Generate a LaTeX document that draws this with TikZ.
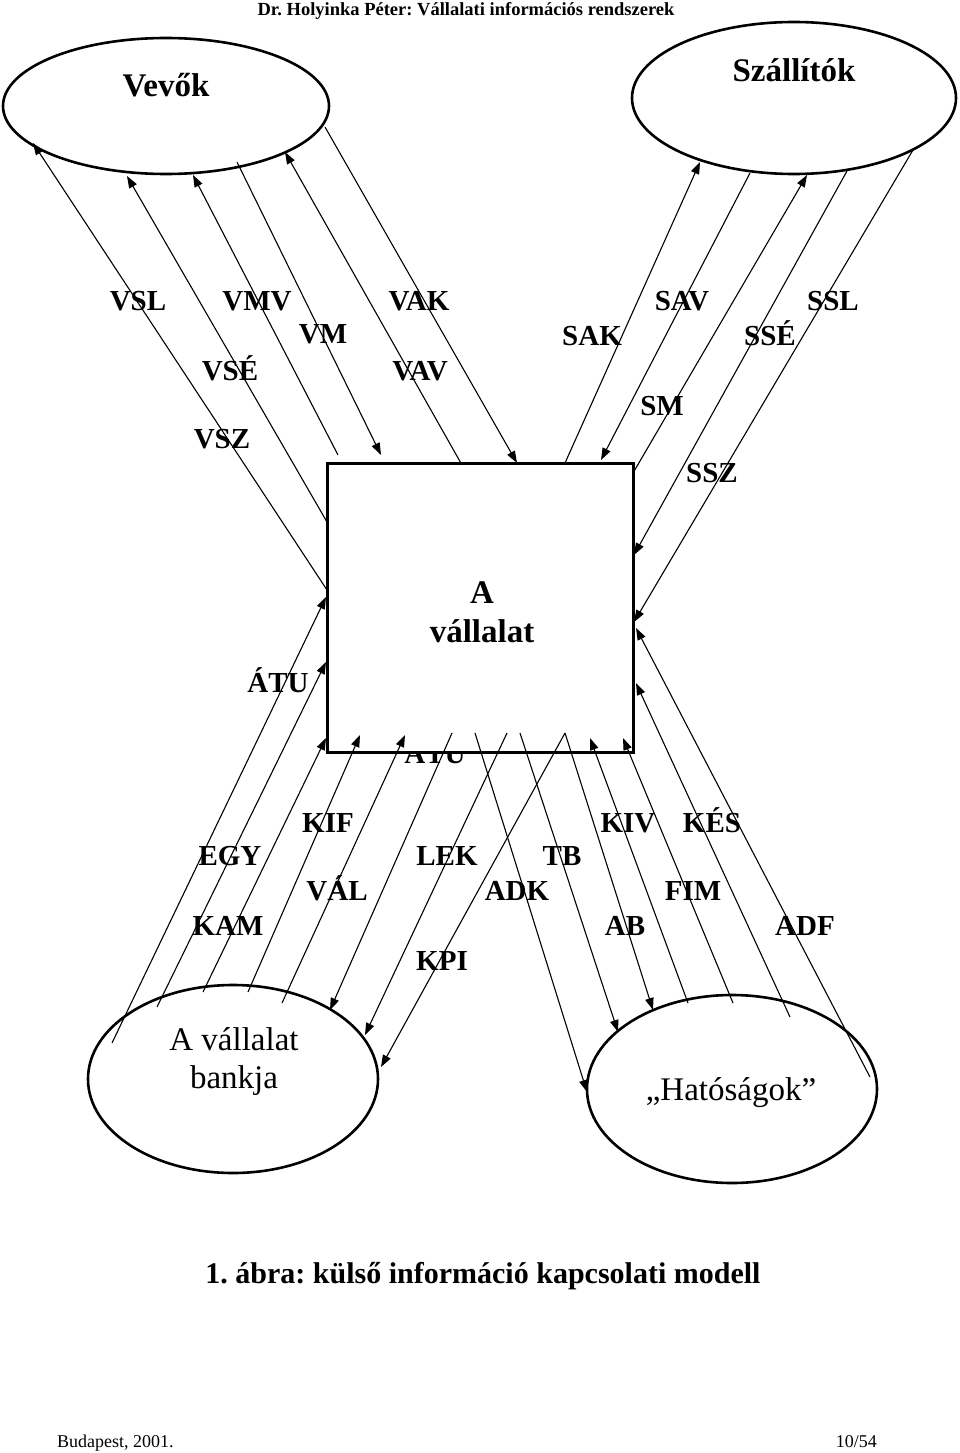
\documentclass[tikz,border=0pt]{standalone}
\usepackage{fontspec}
\setmainfont{Liberation Serif}
\usetikzlibrary{arrows.meta,shapes.geometric}
\frenchspacing
\begin{document}
\begin{tikzpicture}[x=1pt,y=-1pt,
  ell/.style={draw, line width=2.6pt, ellipse, inner sep=0pt},
  flow/.style={line width=1.1pt, -{Triangle[length=12pt,width=8.5pt]}},
  lab/.style={font=\fontsize{29}{34}\selectfont\bfseries, anchor=base, inner sep=0pt},
  bigb/.style={font=\fontsize{33}{38}\selectfont\bfseries, anchor=base, inner sep=0pt},
  bigr/.style={font=\fontsize{33}{38}\selectfont, anchor=base, inner sep=0pt},
]
\useasboundingbox (0,0) rectangle (960,1453);

% header / caption / footer
\node[font=\fontsize{18.5}{22}\selectfont\bfseries, anchor=base, inner sep=0pt] (header) at (466,16) {Dr. Holyinka Péter: Vállalati információs rendszerek};
\node[font=\fontsize{30}{36}\selectfont\bfseries, anchor=base, inner sep=0pt] (caption) at (483,1283) {1. ábra: külső információ kapcsolati modell};
\node[font=\fontsize{18}{22}\selectfont, anchor=base west, inner sep=0pt] (place) at (57,1447) {Budapest, 2001.};
\node[font=\fontsize{18}{22}\selectfont, anchor=base east, inner sep=0pt] (page) at (877,1447) {10/54};

% entities
\node[ell, minimum width=326pt, minimum height=136pt] (vevok) at (166,106) {};
\node[ell, minimum width=324pt, minimum height=152pt] (szall) at (794,98) {};
\node[ell, minimum width=290pt, minimum height=188pt] (bank) at (233,1079) {};
\node[ell, minimum width=290pt, minimum height=188pt] (hat) at (732,1089) {};

\node[bigb] (tvevok) at (166,97) {Vevők};
\node[bigb] (tszall) at (794,82) {Szállítók};
\node[bigr] (tbank1) at (234,1050) {A vállalat};
\node[bigr] (tbank2) at (234,1088) {bankja};
\node[bigr] (that) at (731,1100) {„Hatóságok”};

% label partly hidden by the box
\node[lab] (atu2) at (435,763) {ÁTU};

% the company box
\node[draw, line width=3pt, fill=white, minimum width=306pt, minimum height=289pt, inner sep=0pt] (firm) at (480,607.5) {};
\node[bigb] (tfirm1) at (482,603) {A};
\node[bigb] (tfirm2) at (482,642) {vállalat};

% end points
\coordinate (v1a) at (327,590); \coordinate (v1b) at (33,143);
\coordinate (v2a) at (327,522); \coordinate (v2b) at (127,176);
\coordinate (v3a) at (338,455); \coordinate (v3b) at (193,175);
\coordinate (v4a) at (237,162); \coordinate (v4b) at (381,455);
\coordinate (v5a) at (462,465); \coordinate (v5b) at (285,152);
\coordinate (v6a) at (325,127); \coordinate (v6b) at (517,463);

\coordinate (s1a) at (565,463); \coordinate (s1b) at (700,162);
\coordinate (s2a) at (750,173); \coordinate (s2b) at (601,460);
\coordinate (s3a) at (633,473); \coordinate (s3b) at (807,175);
\coordinate (s4a) at (847,171); \coordinate (s4b) at (634,555);
\coordinate (s5a) at (913,150); \coordinate (s5b) at (634,622);

\coordinate (b1a) at (112,1043); \coordinate (b1b) at (326,597);
\coordinate (b2a) at (157,1007); \coordinate (b2b) at (326,662);
\coordinate (b3a) at (203,992);  \coordinate (b3b) at (326,738);
\coordinate (b4a) at (248,992);  \coordinate (b4b) at (360,735);
\coordinate (b5a) at (282,1003); \coordinate (b5b) at (405,735);
\coordinate (b6a) at (452,733);  \coordinate (b6b) at (330,1010);
\coordinate (b7a) at (507,733);  \coordinate (b7b) at (365,1035);
\coordinate (b8a) at (565,733);  \coordinate (b8b) at (381,1067);

\coordinate (h1a) at (475,733);  \coordinate (h1b) at (587,1092);
\coordinate (h2a) at (520,733);  \coordinate (h2b) at (618,1032);
\coordinate (h3a) at (565,733);  \coordinate (h3b) at (653,1010);
\coordinate (h4a) at (688,1003); \coordinate (h4b) at (590,738);
\coordinate (h5a) at (733,1003); \coordinate (h5b) at (623,738);
\coordinate (h6a) at (790,1017); \coordinate (h6b) at (636,683);
\coordinate (h7a) at (870,1077); \coordinate (h7b) at (636,628);

% connectors: Vevők
\draw[flow] (v1a) -- (v1b);
\draw[flow] (v2a) -- (v2b);
\draw[flow] (v3a) -- (v3b);
\draw[flow] (v4a) -- (v4b);
\draw[flow] (v5a) -- (v5b);
\draw[flow] (v6a) -- (v6b);
% Szállítók
\draw[flow] (s1a) -- (s1b);
\draw[flow] (s2a) -- (s2b);
\draw[flow] (s3a) -- (s3b);
\draw[flow] (s4a) -- (s4b);
\draw[flow] (s5a) -- (s5b);
% bank
\draw[flow] (b1a) -- (b1b);
\draw[flow] (b2a) -- (b2b);
\draw[flow] (b3a) -- (b3b);
\draw[flow] (b4a) -- (b4b);
\draw[flow] (b5a) -- (b5b);
\draw[flow] (b6a) -- (b6b);
\draw[flow] (b7a) -- (b7b);
\draw[flow] (b8a) -- (b8b);
% Hatóságok
\draw[flow] (h1a) -- (h1b);
\draw[flow] (h2a) -- (h2b);
\draw[flow] (h3a) -- (h3b);
\draw[flow] (h4a) -- (h4b);
\draw[flow] (h5a) -- (h5b);
\draw[flow] (h6a) -- (h6b);
\draw[flow] (h7a) -- (h7b);

% labels
\node[lab] (lVSL) at (138,310) {VSL};
\node[lab] (lVMV) at (257,310) {VMV};
\node[lab] (lVAK) at (419,310) {VAK};
\node[lab] (lVM)  at (323,343) {VM};
\node[lab] (lVSE) at (230,380) {VSÉ};
\node[lab] (lVAV) at (420,380) {VAV};
\node[lab] (lVSZ) at (222,448) {VSZ};

\node[lab] (lSAV) at (682,310) {SAV};
\node[lab] (lSSL) at (833,310) {SSL};
\node[lab] (lSAK) at (592,345) {SAK};
\node[lab] (lSSE) at (770,345) {SSÉ};
\node[lab] (lSM)  at (662,415) {SM};
\node[lab] (lSSZ) at (712,482) {SSZ};

\node[lab] (lATU) at (278,692) {ÁTU};

\node[lab] (lKIF) at (328,832) {KIF};
\node[lab] (lKIV) at (628,832) {KIV};
\node[lab] (lKES) at (712,832) {KÉS};
\node[lab] (lEGY) at (230,865) {EGY};
\node[lab] (lLEK) at (447,865) {LEK};
\node[lab] (lTB)  at (562,865) {TB};
\node[lab] (lVAL) at (337,900) {VÁL};
\node[lab] (lADK) at (517,900) {ADK};
\node[lab] (lFIM) at (693,900) {FIM};
\node[lab] (lKAM) at (228,935) {KAM};
\node[lab] (lAB)  at (625,935) {AB};
\node[lab] (lADF) at (805,935) {ADF};
\node[lab] (lKPI) at (442,970) {KPI};
\end{tikzpicture}
\end{document}
